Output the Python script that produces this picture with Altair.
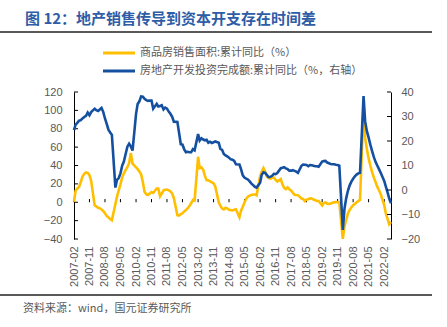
import altair as alt
import pandas as pd

# ---------------- data ----------------
LABEL_SALES = "商品房销售面积:累计同比（%）"
LABEL_INV = "房地产开发投资完成额:累计同比（%，右轴）"

# cumulative YoY, Feb..Dec of each year (Jan not published)
sales_2007 = [0.5, 12.5, 15.0, 16.5, 22.0, 28.0, 31.0, 32.5, 32.0, 29.5, 23.2]
sales_2008 = [-3.5, -4.5, -6.0, -6.5, -7.9, -9.5, -12.0, -14.9, -16.5, -18.3, -19.7]
sales_2009 = [-2.0, 6.0, 13.0, 19.5, 27.0, 31.5, 35.0, 38.5, 42.5, 53.5, 42.1]
sales_2010 = [38.0, 36.0, 33.5, 30.5, 22.0, 11.5, 8.5, 8.0, 9.5, 11.0, 10.1]
sales_2011 = [14.9, 14.9, 6.5, 9.5, 12.9, 13.5, 13.8, 12.9, 12.0, 9.5, 4.4]
sales_2012 = [-14.0, -14.5, -13.0, -12.0, -10.0, -8.5, -6.5, -4.1, -1.1, 2.4, 1.8]
sales_2013 = [49.5, 37.1, 38.0, 35.6, 28.7, 24.0, 24.0, 22.8, 21.6, 20.6, 17.3]
sales_2014 = [-0.1, -3.8, -6.8, -7.8, -6.0, -6.7, -8.3, -8.6, -8.9, -8.2, -7.6]
sales_2015 = [-16.3, -9.2, -4.8, -0.2, 3.9, 6.1, 7.2, 8.0, 8.5, 8.5, 7.5]
sales_2016 = [28.2, 33.1, 37.2, 33.2, 27.9, 26.4, 25.5, 26.9, 26.8, 24.3, 22.5]
sales_2017 = [25.1, 19.5, 15.7, 14.3, 16.1, 14.0, 12.7, 10.3, 8.2, 7.9, 7.7]
sales_2018 = [4.1, 3.6, 1.3, 2.9, 3.3, 4.2, 4.0, 2.9, 2.2, 1.4, 1.3]
sales_2019 = [-3.6, -0.9, -0.3, -1.6, -1.8, -1.3, -0.6, -0.1, 0.1, 0.2, -0.1]
sales_2020 = [-39.9, -26.3, -19.3, -12.3, -8.4, -5.8, -3.3, -1.8, 0.0, 1.3, 2.6]
sales_2021 = [104.9, 70.0, 58.0, 48.0, 40.0, 33.0, 27.0, 22.0, 17.0, 13.0, 9.0]
sales_2022 = [-3.0, -12.0, -18.0, -24.0, -21.5]

inv_2007 = [24.4, 26.7, 27.4, 28.3, 28.5, 29.2, 29.8, 30.3, 31.6, 30.5, 31.8]
inv_2008 = [33.2, 32.6, 32.3, 32.9, 33.5, 31.9, 29.2, 27.0, 24.6, 23.5, 22.5]
inv_2009 = [1.0, 4.1, 4.9, 6.8, 9.9, 11.6, 14.7, 17.7, 18.9, 17.8, 16.1]
inv_2010 = [31.1, 35.1, 36.2, 38.2, 38.1, 37.2, 36.7, 36.4, 36.5, 36.5, 33.2]
inv_2011 = [35.2, 34.1, 34.3, 34.6, 32.9, 33.6, 33.2, 32.0, 31.1, 29.9, 27.9]
inv_2012 = [27.8, 23.5, 18.7, 18.5, 16.6, 15.4, 15.6, 15.4, 15.4, 16.7, 16.2]
inv_2013 = [22.8, 20.2, 21.1, 20.6, 20.3, 20.5, 19.3, 19.7, 19.2, 19.5, 19.8]
inv_2014 = [19.3, 16.8, 16.4, 14.7, 14.1, 13.7, 13.2, 12.5, 12.4, 11.9, 10.5]
inv_2015 = [10.4, 8.5, 6.0, 5.1, 4.6, 4.3, 3.5, 2.6, 2.0, 1.3, 1.0]
inv_2016 = [3.0, 6.2, 7.2, 7.0, 6.1, 5.3, 5.4, 5.8, 6.6, 6.5, 6.9]
inv_2017 = [8.9, 9.1, 9.3, 8.8, 8.5, 7.9, 7.9, 8.1, 7.8, 7.5, 7.0]
inv_2018 = [9.9, 10.4, 10.3, 10.2, 9.7, 10.2, 10.1, 9.9, 9.7, 9.7, 9.5]
inv_2019 = [11.6, 11.8, 11.9, 11.2, 10.9, 10.6, 10.5, 10.5, 10.3, 10.2, 9.9]
inv_2020 = [-16.3, -7.7, -3.3, -0.3, 1.9, 3.4, 4.6, 5.6, 6.3, 6.8, 7.0]
inv_2021 = [38.3, 28.0, 24.0, 21.5, 18.5, 16.0, 13.5, 11.5, 10.0, 8.5, 7.0]
inv_2022 = [3.7, 1.5, -1.0, -3.5, -5.4]

tick_labels = ["2007-02", "2007-11", "2008-08", "2009-05", "2010-02", "2010-11",
               "2011-08", "2012-05", "2013-02", "2013-11", "2014-08", "2015-05",
               "2016-02", "2016-11", "2017-08", "2018-05", "2019-02", "2019-11",
               "2020-08", "2021-05", "2022-02"]
left_ticks = [-40, -20, 0, 20, 40, 60, 80, 100, 120]
right_ticks = [-20, -10, 0, 10, 20, 30, 40]

# ---------------- table ----------------
sales_years = [sales_2007, sales_2008, sales_2009, sales_2010, sales_2011, sales_2012,
               sales_2013, sales_2014, sales_2015, sales_2016, sales_2017, sales_2018,
               sales_2019, sales_2020, sales_2021, sales_2022]
inv_years = [inv_2007, inv_2008, inv_2009, inv_2010, inv_2011, inv_2012, inv_2013,
             inv_2014, inv_2015, inv_2016, inv_2017, inv_2018, inv_2019, inv_2020,
             inv_2021, inv_2022]
rows = []
for i, (s_list, v_list) in enumerate(zip(sales_years, inv_years)):
    yr = 2007 + i
    for j, (s, v) in enumerate(zip(s_list, v_list)):
        rows.append({"date": f"{yr}-{j + 2:02d}-01T00:00:00", "sales": s, "inv": v})
df = pd.DataFrame(rows)
ticks_df = pd.DataFrame({"date": [t + "-01T00:00:00" for t in tick_labels]})
lt_df = pd.DataFrame({"v": left_ticks})
rt_df = pd.DataFrame({"v": right_ticks})

# ---------------- style ----------------
W, H = 317, 147
PAD_L, PAD_T = 74, 92
YEL = "#FFBF00"
BLU = "#14509F"
GRAY = "#595959"
FONT = "Liberation Sans"
CJK = "Noto Sans CJK SC"

x_dates = [alt.DateTime(year=int(t[:4]), month=int(t[5:]), date=1) for t in tick_labels]
x_scale = alt.Scale(domain=[alt.DateTime(year=2007, month=2, date=1),
                            alt.DateTime(year=2022, month=6, date=1)])
x_axis = alt.Axis(values=x_dates, format="%Y-%m", labelAngle=270,
                  domain=False, ticks=False, grid=False, labelPadding=7,
                  labelColor=GRAY, labelFontSize=11, labelFont=FONT,
                  labelOverlap=False, labelFlush=False, title=None)


def xe():
    return alt.X("date:T", scale=x_scale, axis=x_axis)


left_scale = alt.Scale(domain=[-40, 120], nice=False, zero=False)
right_scale = alt.Scale(domain=[-20, 40], nice=False, zero=False)
left_axis = alt.Axis(values=left_ticks, domain=True, domainColor="#000000", domainWidth=1,
                     ticks=False, grid=False, labelPadding=12, labelColor=GRAY,
                     labelFontSize=11, labelFont=FONT, labelOverlap=False,
                     labelFlush=False, title=None)
right_axis = alt.Axis(values=right_ticks, orient="right", domain=True,
                      domainColor="#000000", domainWidth=1, ticks=False, grid=False,
                      labelPadding=10, labelColor=GRAY, labelFontSize=11,
                      labelFont=FONT, labelOverlap=False, labelFlush=False, title=None)

base = alt.Chart(df)
yellow = base.mark_line(color=YEL, strokeWidth=2.6).encode(
    x=xe(), y=alt.Y("sales:Q", scale=left_scale, axis=left_axis))
zero_rule = alt.Chart(df).mark_rule(color="#000000", strokeWidth=1.3).encode(
    y=alt.Y("zero:Q", scale=left_scale, axis=left_axis),
    x=alt.value(0), x2=alt.value(W)).transform_calculate(zero="0").transform_filter(
    "datum.date == '2007-02-01T00:00:00'")
xticks = alt.Chart(ticks_df).mark_rule(color="#000000", strokeWidth=1).encode(
    x=xe(), y=alt.Y("y0:Q", scale=left_scale, axis=left_axis),
    y2="y1:Q").transform_calculate(y0="0", y1="3.5")
lticks = alt.Chart(lt_df).mark_rule(color="#000000", strokeWidth=1).encode(
    y=alt.Y("v:Q", scale=left_scale, axis=left_axis), x=alt.value(0), x2=alt.value(4))
left = alt.layer(zero_rule, xticks, lticks, yellow)

blue = base.mark_line(color=BLU, strokeWidth=2.6).encode(
    x=xe(), y=alt.Y("inv:Q", scale=right_scale, axis=right_axis))
rticks = alt.Chart(rt_df).mark_rule(color="#000000", strokeWidth=1).encode(
    y=alt.Y("v:Q", scale=right_scale, axis=right_axis), x=alt.value(W - 4), x2=alt.value(W))
right = alt.layer(blue, rticks)

one = alt.Data(values=[{}])
title = alt.Chart(one).mark_text(
    align="left", baseline="middle", font=CJK, fontSize=15, fontWeight="bold",
    color="#2E5CA6", dx=25 - PAD_L).encode(
    x=alt.value(0), y=alt.value(19 - PAD_T),
    text=alt.value("图 12：地产销售传导到资本开支存在时间差"))
top_sep = alt.Chart(one).mark_rule(color="#222222", strokeWidth=1.5).encode(
    x=alt.value(-PAD_L), x2=alt.value(432 - PAD_L), y=alt.value(32 - PAD_T))
bot_sep = alt.Chart(one).mark_rule(color="#222222", strokeWidth=1.5).encode(
    x=alt.value(-PAD_L), x2=alt.value(432 - PAD_L), y=alt.value(295 - PAD_T))
footer = alt.Chart(one).mark_text(
    align="left", baseline="middle", font=CJK, fontSize=11, color=GRAY,
    dx=23 - PAD_L).encode(
    x=alt.value(0), y=alt.value(309 - PAD_T),
    text=alt.value("资料来源：wind，国元证券研究所"))
leg1_line = alt.Chart(one).mark_rule(color=YEL, strokeWidth=3).encode(
    x=alt.value(103 - PAD_L), x2=alt.value(135 - PAD_L), y=alt.value(53 - PAD_T))
leg2_line = alt.Chart(one).mark_rule(color=BLU, strokeWidth=3).encode(
    x=alt.value(103 - PAD_L), x2=alt.value(135 - PAD_L), y=alt.value(71 - PAD_T))
leg1_txt = alt.Chart(one).mark_text(
    align="left", baseline="middle", font=CJK, fontSize=11, color=GRAY).encode(
    x=alt.value(140 - PAD_L), y=alt.value(53 - PAD_T), text=alt.value(LABEL_SALES))
leg2_txt = alt.Chart(one).mark_text(
    align="left", baseline="middle", font=CJK, fontSize=11, color=GRAY).encode(
    x=alt.value(140 - PAD_L), y=alt.value(71 - PAD_T), text=alt.value(LABEL_INV))
deco = alt.layer(title, top_sep, bot_sep, footer, leg1_line, leg2_line, leg1_txt, leg2_txt)

chart = alt.layer(left, right, deco).resolve_scale(y="independent").properties(
    width=W, height=H,
    autosize=alt.AutoSizeParams(type="none"),
    padding={"left": PAD_L, "top": PAD_T, "right": 447 - PAD_L - W, "bottom": 327 - PAD_T - H},
    background="#FFFFFF",
).configure_view(stroke=None)

chart.save("out.html", embed_options={"renderer": "svg", "actions": False})
